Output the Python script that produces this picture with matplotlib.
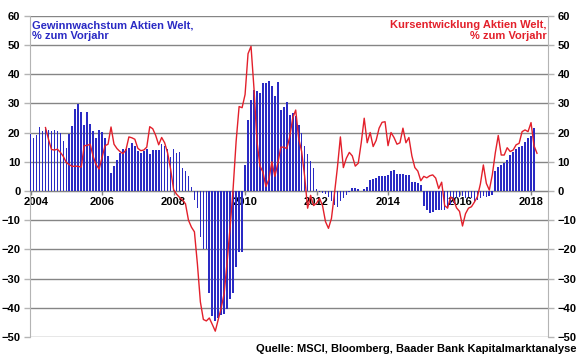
import numpy as np
import matplotlib
matplotlib.use('Agg')
import matplotlib.pyplot as plt
import matplotlib.transforms as mtransforms

plt.rcParams['font.family'] = ['Liberation Sans', 'DejaVu Sans']
plt.rcParams['font.weight'] = 'bold'

# monthly data, first month = Jan 2004
start_year = 2004
jahre = ['2004', '2006', '2008', '2010', '2012', '2014', '2016', '2018']

# Gewinnwachstum Aktien Welt, % yoy (bars), Jan 2004 - Feb 2018
gewinn = [
    19.6, 18.3, 19.2, 22.0, 20.5, 21.5, 20.9, 20.5, 21.0, 20.5, 20.0, 17.0,
    14.8, 19.4, 22.3, 28.0, 29.7, 27.2, 22.6, 27.2, 23.0, 20.5, 18.3, 20.9,
    20.2, 18.0, 12.0, 6.0, 8.5, 10.5, 13.0, 14.5, 14.3, 14.8, 16.3, 15.4,
    13.7, 13.1, 13.7, 14.3, 12.6, 13.9, 13.9, 13.9, 16.0, 15.4, 14.3, 11.6,
    14.5, 13.1, 13.4, 7.8, 6.8, 5.1, 1.5, -3.2, -5.7, -15.7, -20.0, -20.0,
    -35.0, -42.7, -44.5, -43.5, -42.5, -42.0, -40.5, -37.0, -35.0, -26.0, -21.0, -21.0,
    8.9, 24.3, 31.0, 34.4, 34.3, 33.4, 37.1, 37.1, 37.8, 36.0, 32.5, 37.4,
    27.7, 28.9, 30.3, 26.0, 26.6, 25.7, 22.6, 20.0, 15.4, 12.6, 10.3, 7.8,
    0.5, -0.5, -0.8, -1.2, -2.0, -3.5, -4.8, -5.4, -3.5, -2.5, -1.5, -0.5,
    0.9, 0.9, 0.6, 0.0, 0.6, 1.5, 3.8, 4.2, 4.6, 5.0, 5.2, 5.2,
    5.5, 7.0, 7.2, 5.8, 5.8, 5.8, 5.6, 5.4, 3.2, 2.9, 2.6, 2.0,
    -5.1, -6.5, -7.6, -7.1, -6.5, -6.5, -6.5, -6.5, -6.0, -4.8, -4.2, -2.5,
    -2.0, -1.7, -2.5, -2.2, -2.5, -3.7, -3.0, -2.5, -1.7, -2.0, -1.7, -1.4,
    7.0, 8.1, 8.9, 9.6, 10.6, 12.3, 13.5, 14.3, 14.9, 15.5, 16.9, 18.0,
    18.8, 21.7,
]

# Kursentwicklung Aktien Welt, % yoy (line), Jun 2004 - Mar 2018
kurs_start = 5
kurs = [
    21.7, 17.7, 14.2, 14.0, 14.3, 13.2, 11.8,
    9.7, 9.0, 8.4, 8.5, 8.4, 8.2, 15.5, 15.6, 16.0, 11.8, 9.0, 7.5,
    11.5, 15.5, 16.0, 21.9, 16.0, 14.5, 13.5, 12.8, 14.0, 18.5, 18.2, 17.7,
    14.6, 13.8, 14.0, 15.0, 22.0, 21.3, 19.0, 15.8, 18.3, 16.5, 13.0, 7.5,
    0.5, -1.1, -2.2, -3.1, -4.4, -10.0, -12.4, -14.0, -25.0, -38.0, -44.0, -44.5,
    -43.5, -45.7, -48.0, -44.0, -40.0, -35.0, -24.0, -12.2, 1.0, 17.0, 28.9, 28.5,
    33.0, 47.0, 49.5, 35.0, 17.0, 8.5, 6.5, 1.5, 4.0, 10.0, 5.0, 9.5,
    15.0, 15.0, 14.5, 18.5, 25.0, 27.7, 18.0, 13.5, 5.0, -5.9, -1.5, -5.0,
    -4.2, -2.5, -5.0, -10.5, -12.8, -9.4, -1.0, 8.0, 18.5, 8.0, 11.2, 13.2,
    12.0, 8.5, 9.5, 16.5, 24.9, 16.5, 20.0, 15.2, 17.3, 21.5, 23.5, 23.7,
    15.5, 20.0, 18.3, 16.0, 16.5, 21.5, 16.5, 18.3, 12.0, 8.0, 6.8, 3.5,
    5.0, 4.5, 5.2, 5.5, 4.4, 0.8, 3.0, -5.0, -5.9, -2.0, -3.0, -5.8,
    -7.0, -12.0, -7.8, -5.9, -5.4, -3.8, -2.0, 2.4, 8.9, 2.6, 0.3, 5.5,
    13.0, 19.0, 12.3, 12.3, 14.8, 13.5, 14.0, 15.8, 16.3, 20.3, 20.9, 20.3,
    23.4, 15.5, 12.9,
]

blau = '#2a2ac4'
rot = '#e3202b'
grau = '#858585'

fig = plt.figure(figsize=(5.8, 3.58), dpi=100)
ax = fig.add_axes([30 / 580, 1 - 337 / 358, 518 / 580, 321.3 / 358])

x_g = np.arange(len(gewinn))
x_k = np.arange(len(kurs)) + kurs_start

ax.bar(x_g, gewinn, width=0.56, color=blau, linewidth=0, zorder=3)
ax.set_ylim(-50, 60)
ax.set_xlim(-0.2, 173.7)
ax.set_yticks(np.arange(-50, 61, 10))
ax.yaxis.grid(True, color=grau, linewidth=1.0, zorder=0)
ax.set_axisbelow(True)

ax.set_xticks(np.arange(len(jahre)) * 24)
ax.set_xticklabels(jahre)
ax.spines['bottom'].set_position(('data', 0))
ax.spines['bottom'].set_color(grau)
ax.spines['top'].set_visible(False)
ax.spines['left'].set_color('#b4b4b4')
ax.spines['right'].set_color('#b4b4b4')
ax.tick_params(axis='x', length=3, width=1, color=grau, pad=1, labelsize=8)
ax.tick_params(axis='y', length=4, width=1, color='#b4b4b4', pad=3, labelsize=8)
# first year label sits a bit right of its tick
first = ax.get_xticklabels()[0]
first.set_transform(first.get_transform() + mtransforms.ScaledTranslation(6 / 100, 0, fig.dpi_scale_trans))

ax2 = ax.twinx()
ax2.plot(x_k, kurs, color=rot, linewidth=1.0, zorder=4)
ax2.set_ylim(-50, 60)
ax2.set_yticks(np.arange(-50, 61, 10))
ax2.tick_params(axis='y', length=4, width=1, color='#b4b4b4', pad=3, labelsize=8)
for s in ax2.spines.values():
    s.set_visible(False)

fig.text(32 / 580, 1 - 20 / 358, 'Gewinnwachstum Aktien Welt,\n% zum Vorjahr',
         color=blau, fontsize=8, fontweight='bold', va='top', ha='left', linespacing=1.15)
fig.text(547 / 580, 1 - 20 / 358, 'Kursentwicklung Aktien Welt,\n% zum Vorjahr',
         color=rot, fontsize=8, fontweight='bold', va='top', ha='right',
         multialignment='right', linespacing=1.15)
fig.text(577 / 580, 1 - 349 / 358, 'Quelle: MSCI, Bloomberg, Baader Bank Kapitalmarktanalyse',
         color='black', fontsize=8, fontweight='bold', va='center', ha='right')

plt.savefig('out.png', dpi=100)
plt.close()
